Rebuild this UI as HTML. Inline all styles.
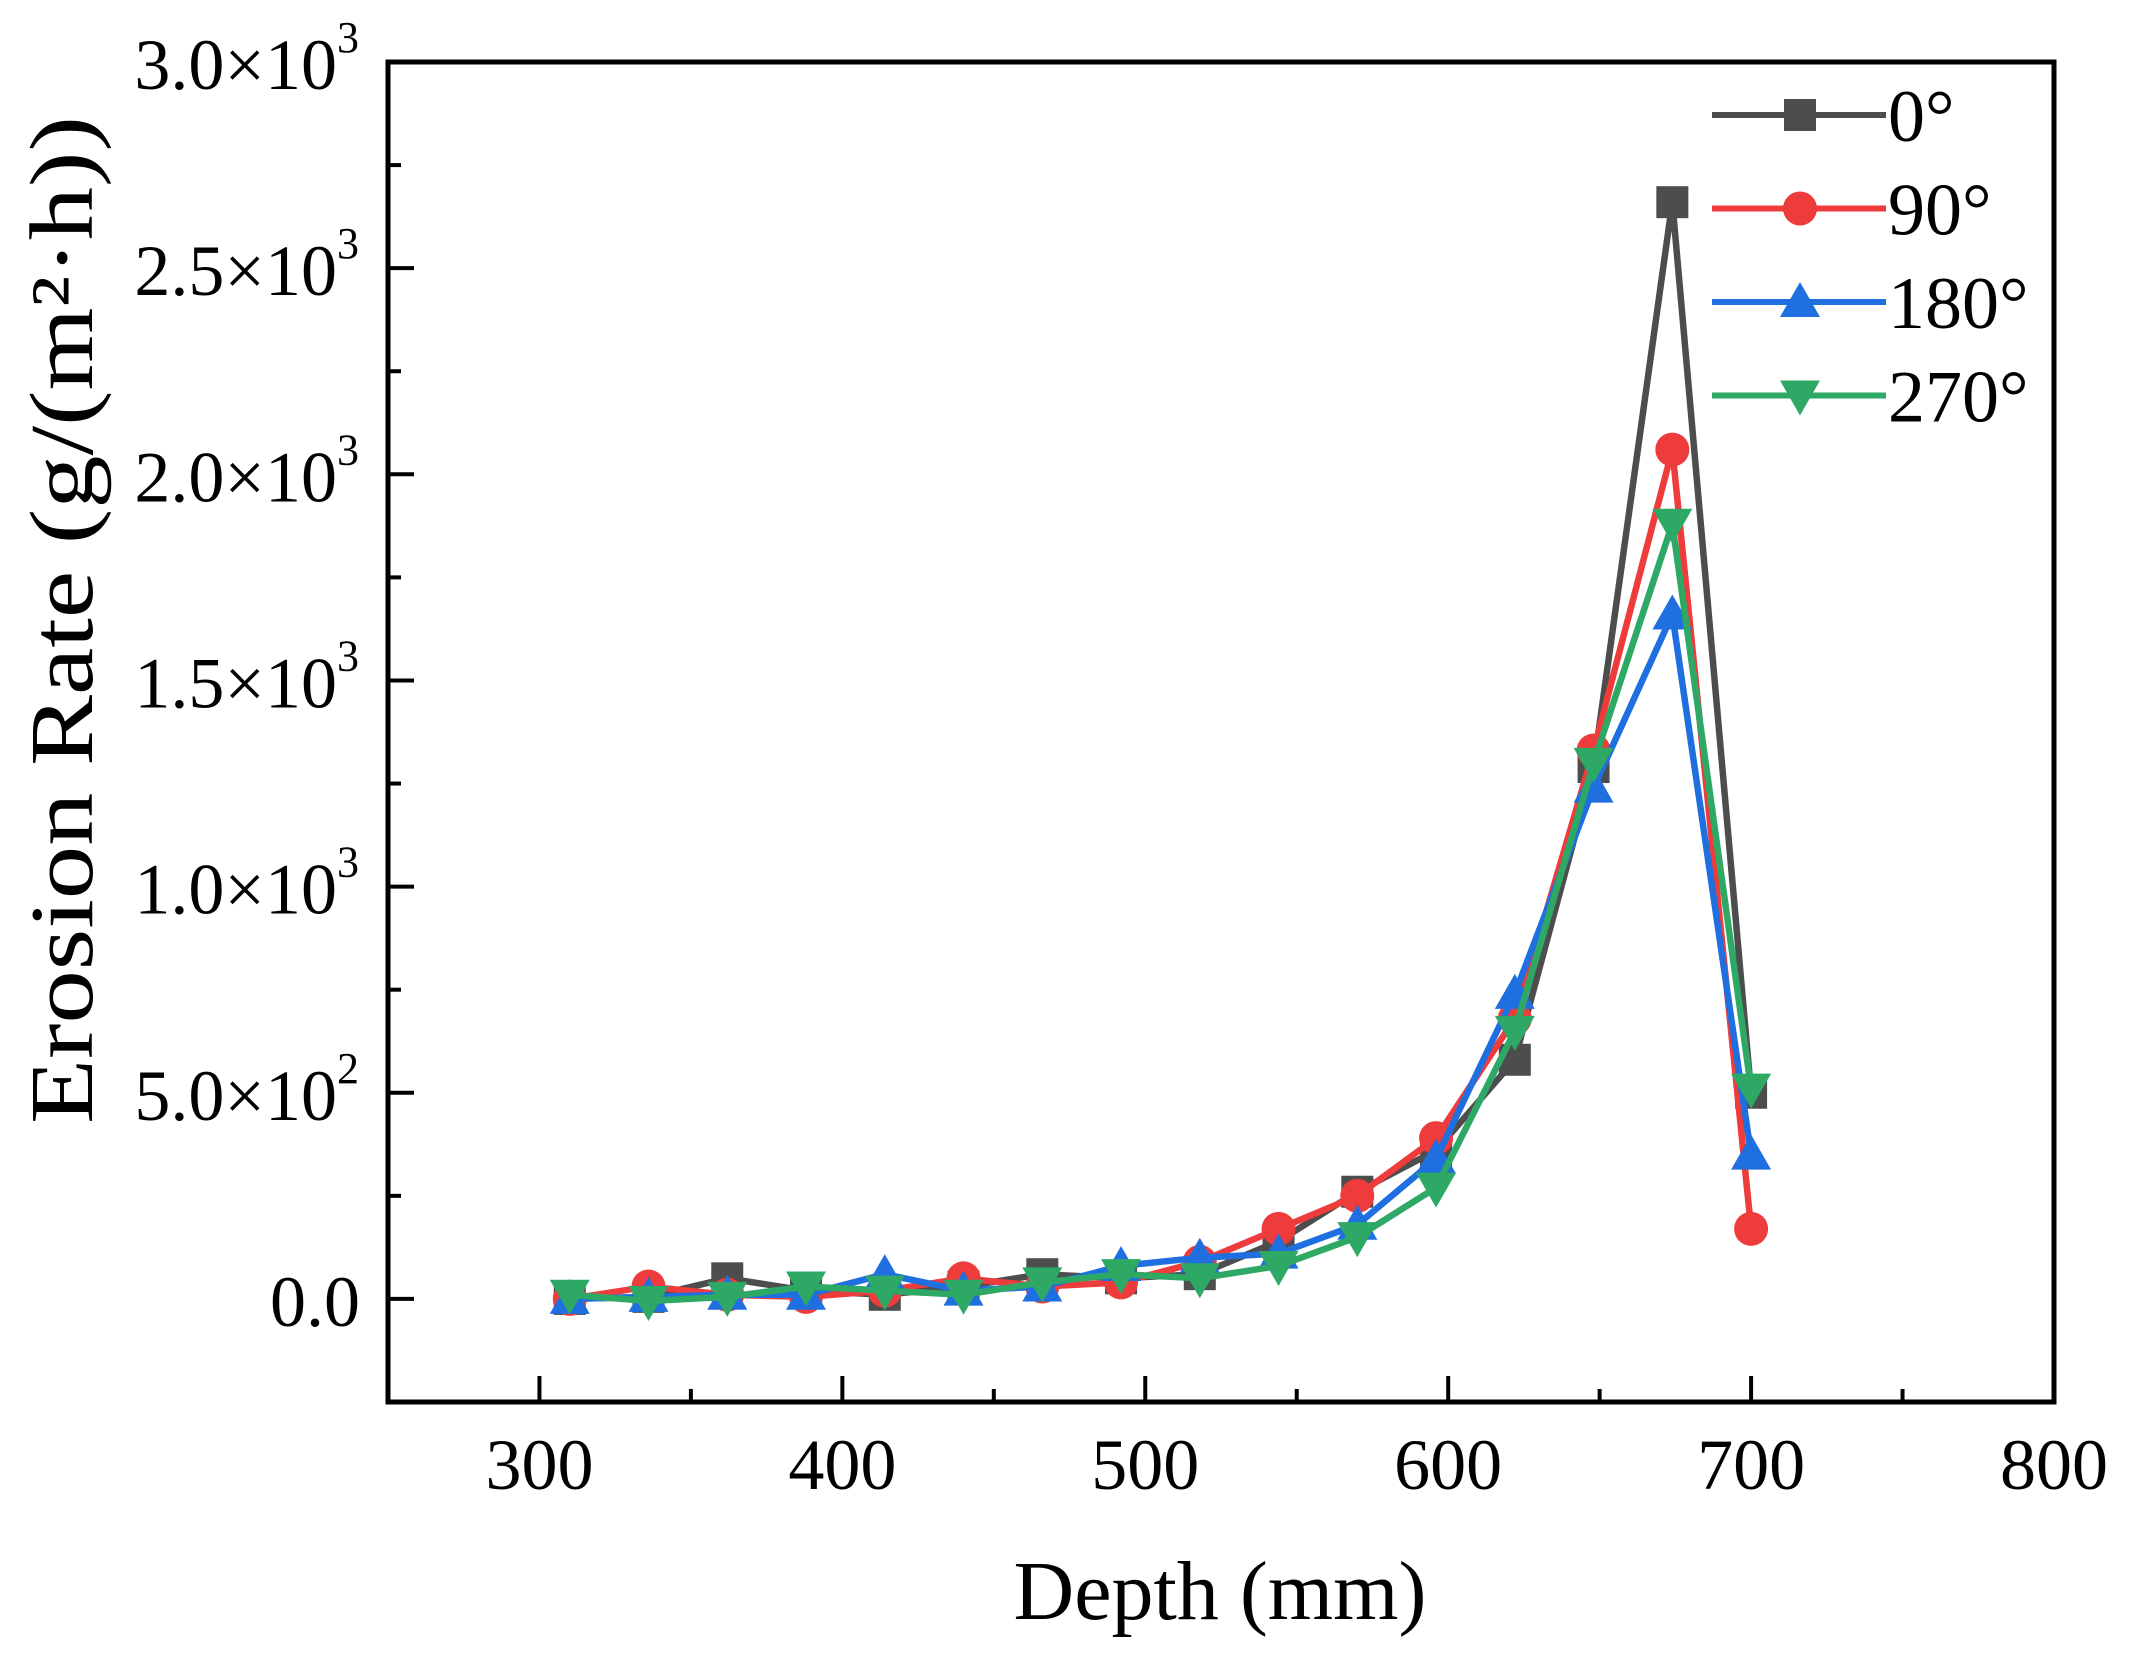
<!DOCTYPE html>
<html><head><meta charset="utf-8"><style>
html,body{margin:0;padding:0;background:#fff;}
svg{display:block;font-family:"Liberation Serif",serif;}
</style></head><body>
<svg id="chart" width="2139" height="1662" viewBox="0 0 2139 1662" xmlns="http://www.w3.org/2000/svg">
<g id="plot"></g>
<g id="axes"></g>
<g id="legend"></g>
<text x="1220" y="1619" font-size="84" text-anchor="middle">Depth (mm)</text>
<text transform="translate(92,620) rotate(-90)" font-size="90" text-anchor="middle" textLength="1008" lengthAdjust="spacingAndGlyphs">Erosion Rate (g/(m²·h))</text>
</svg>
<script>
const depths = [310,336,362,388,414,440,466,492,518,544,570,596,622,648,674,700];
const s0 = [0,5,50,20,10,30,60,50,60,140,260,360,580,1290,2660,500];
const s90 = [0,30,10,5,20,50,30,40,90,170,250,390,680,1330,2060,170];
const s180 = [0,5,10,10,60,20,30,80,100,110,180,340,740,1240,1660,350];
const s270 = [10,-5,5,30,20,10,40,60,50,80,150,270,650,1300,1880,510];
const seriesNames = ["0°","90°","180°","270°"];
const xTicks = [300,400,500,600,700,800];
const yTicks = [0,500,1000,1500,2000,2500,3000];
const yTickLabels = ["0.0","5.0×10","1.0×10","1.5×10","2.0×10","2.5×10","3.0×10"];
const yTickExp = ["","2","3","3","3","3","3"];

const L=388,R=2054,T=62,B=1402,xmin=250,xmax=800,ymin=-250,ymax=3000;
const X=v=>L+(v-xmin)/(xmax-xmin)*(R-L);
const Y=v=>B-(v-ymin)/(ymax-ymin)*(B-T);
const NS="http://www.w3.org/2000/svg";
function mk(tag,attrs,parent){const e=document.createElementNS(NS,tag);for(const k in attrs)e.setAttribute(k,attrs[k]);parent.appendChild(e);return e;}
const axes=document.getElementById('axes'),plot=document.getElementById('plot'),legend=document.getElementById('legend');

const frame=mk('rect',{x:L,y:T,width:R-L,height:B-T,fill:'none',stroke:'#000','stroke-width':5},axes);


for(let v=xmin;v<=xmax;v+=50){
  const major=v%100===0;
  const t=mk('line',{x1:X(v),x2:X(v),y1:B,y2:B-(major?26:13),stroke:'#000','stroke-width':4},axes);
  
  
}
xTicks.forEach(v=>{
  const t=mk('text',{x:X(v),y:1489,'font-size':72,'text-anchor':'middle'},axes);
  t.textContent=v;
  
  
});
for(let v=ymin;v<=ymax;v+=250){
  const major=v%500===0;
  const t=mk('line',{x1:L,x2:L+(major?26:13),y1:Y(v),y2:Y(v),stroke:'#000','stroke-width':4},axes);
  
  
}
yTicks.forEach((v,i)=>{
  const t=mk('text',{x:yTickExp[i]?337:360,y:Y(v)+27,'font-size':72,'text-anchor':'end'},axes);
  t.textContent=yTickLabels[i];
  
  
  if(yTickExp[i]){
    const s=mk('text',{x:337,y:Y(v)-10,'font-size':44},axes);
    s.textContent=yTickExp[i];
    
    
  }
});

const colors=['#4d4d4d','#ee3b3b','#1f6fe0','#2ea865'];
const data=[s0,s90,s180,s270];
function marker(kind,cx,cy,color,parent){
  let e;
  if(kind===0) e=mk('rect',{x:cx-16,y:cy-16,width:32,height:32,fill:color},parent);
  else if(kind===1) e=mk('circle',{cx:cx,cy:cy,r:17,fill:color},parent);
  else if(kind===2) e=mk('polygon',{points:`${cx},${cy-20} ${cx-20},${cy+15} ${cx+20},${cy+15}`,fill:color},parent);
  else e=mk('polygon',{points:`${cx},${cy+20} ${cx-20},${cy-15} ${cx+20},${cy-15}`,fill:color},parent);
  return e;
}
data.forEach((arr,si)=>{
  const g=mk('g',{},plot);
  
  
  const pts=arr.map((v,i)=>X(depths[i])+','+Y(v)).join(' ');
  const pl=mk('polyline',{points:pts,fill:'none',stroke:colors[si],'stroke-width':6.5,'stroke-linejoin':'round'},g);
  
  
  arr.forEach((v,i)=>{
    const m=marker(si,X(depths[i]),Y(v),colors[si],g);
    
    
  });
  const ly=115+si*93.5;
  const ll=mk('line',{x1:1712,x2:1886,y1:ly,y2:ly,stroke:colors[si],'stroke-width':6},legend);
  
  
  const lm=marker(si,1800,ly,colors[si],legend);
  
  
  const lt=mk('text',{x:1888,y:ly+26,'font-size':74},legend);
  lt.textContent=seriesNames[si];
  
  
});
</script>
</body></html>
